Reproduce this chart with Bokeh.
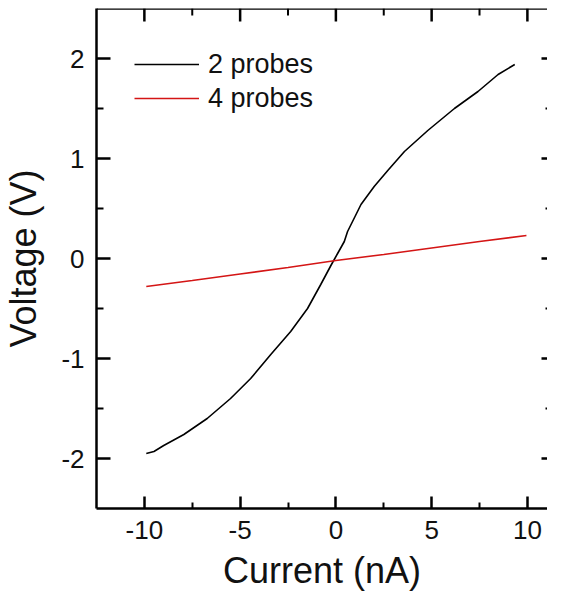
from bokeh.plotting import figure
from bokeh.models import (LinearAxis, FixedTicker, Legend, LegendItem, Range1d,
                          CustomJSTickFormatter, Span)
from bokeh.embed import file_html
from bokeh.resources import INLINE

# ---- data ----
current_2p = [-9.9, -9.5, -8.99, -7.94, -6.72, -5.5, -4.45, -3.4, -2.36, -1.48, -0.79, -0.26,
              0.09, 0.44, 0.61, 1.0, 1.31, 2.0, 2.71, 3.58, 4.8, 6.19, 7.42, 8.47, 9.34]
voltage_2p = [-1.95, -1.93, -1.87, -1.76, -1.6, -1.4, -1.2, -0.96, -0.73, -0.5, -0.26, -0.07,
              0.05, 0.17, 0.27, 0.42, 0.54, 0.72, 0.88, 1.07, 1.28, 1.5, 1.67, 1.84, 1.94]

current_4p = [-9.9, -7.5, -5.0, -2.5, 0.0, 2.5, 5.0, 7.5, 9.95]
voltage_4p = [-0.28, -0.22, -0.155, -0.09, -0.02, 0.04, 0.105, 0.17, 0.23]

x_major = [-10, -5, 0, 5, 10]
x_minor = [-7.5, -2.5, 2.5, 7.5]
x_labels = ["-10", "-5", "0", "5", "10"]
y_major = [-2, -1, 0, 1, 2]
y_minor = [-1.5, -0.5, 0.5, 1.5]
y_labels = ["-2", "-1", "0", "1", "2"]

series_labels = ["2 probes", "4 probes"]
series_colors = ["#000000", "#d41515"]

FONT = "Liberation Sans"
TXT = "#111111"

Y_LO, Y_HI = -2.5, 2.5
p = figure(width=547, height=600, output_backend="svg", toolbar_location=None,
           title_location=None,
           x_range=Range1d(-12.5, 11.05), y_range=Range1d(Y_LO, Y_HI),
           min_border_left=89, min_border_right=0, min_border_top=8,
           min_border_bottom=92, x_axis_label="Current (nA)",
           y_axis_label="Voltage (V)")
p.outline_line_color = None
p.xgrid.visible = False
p.ygrid.visible = False
p.background_fill_color = "white"
p.border_fill_color = "white"

r1 = p.line(current_2p, voltage_2p, line_color=series_colors[0], line_width=1.6)
r2 = p.line(current_4p, voltage_4p, line_color=series_colors[1], line_width=1.6)


def style_axis(ax, major_in, minor_in):
    ax.axis_line_width = 2.5
    ax.axis_line_color = "#000000"
    ax.major_tick_line_width = 2.5
    ax.minor_tick_line_width = 2
    ax.major_tick_in = major_in
    ax.major_tick_out = 0
    ax.minor_tick_in = minor_in
    ax.minor_tick_out = 0
    ax.major_tick_line_color = "#000000"
    ax.minor_tick_line_color = "#000000"


xa = p.xaxis[0]
xa.ticker = FixedTicker(ticks=x_major, minor_ticks=x_minor)
xa.major_label_overrides = dict(zip(x_major, x_labels))
style_axis(xa, 12, 6)
xa.major_label_text_font = FONT
xa.major_label_text_font_size = "26px"
xa.major_label_text_color = TXT
xa.major_label_standoff = 12
xa.axis_label_text_font = FONT
xa.axis_label_text_font_size = "36px"
xa.axis_label_text_font_style = "normal"
xa.axis_label_text_color = TXT
xa.axis_label_standoff = 8

ya = p.yaxis[0]
ya.ticker = FixedTicker(ticks=y_major, minor_ticks=y_minor)
ya.major_label_overrides = dict(zip(y_major, y_labels))
style_axis(ya, 14, 7)
ya.major_label_text_font = FONT
ya.major_label_text_font_size = "26px"
ya.major_label_text_color = TXT
ya.major_label_standoff = 12
ya.axis_label_text_font = FONT
ya.axis_label_text_font_size = "36px"
ya.axis_label_text_font_style = "normal"
ya.axis_label_text_color = TXT
ya.axis_label_standoff = 14

blank = CustomJSTickFormatter(code="return ''")

# top frame edge with inward ticks (frame is 100 px per volt)
p.add_layout(Span(location=Y_HI, dimension="width", line_color="#000000",
                  line_width=2.5))
p.segment(x0=x_major, y0=[Y_HI] * len(x_major), x1=x_major,
          y1=[Y_HI - 0.13] * len(x_major), line_color="#000000", line_width=2.5)
p.segment(x0=x_minor, y0=[Y_HI] * len(x_minor), x1=x_minor,
          y1=[Y_HI - 0.07] * len(x_minor), line_color="#000000", line_width=2)

right = LinearAxis(ticker=FixedTicker(ticks=y_major, minor_ticks=y_minor),
                   formatter=blank)
style_axis(right, 6, 2)
right.axis_line_color = None
right.major_label_text_font_size = "1px"
right.major_label_standoff = 0
p.add_layout(right, "right")

legend = Legend(items=[LegendItem(label=series_labels[0], renderers=[r1]),
                       LegendItem(label=series_labels[1], renderers=[r2])],
                location=(38, 393))
legend.label_text_font = FONT
legend.label_text_font_size = "27px"
legend.label_text_color = TXT
legend.glyph_width = 65
legend.glyph_height = 34
legend.label_height = 34
legend.label_standoff = 9
legend.spacing = 0
legend.padding = 0
legend.margin = 0
legend.border_line_color = None
legend.background_fill_alpha = 0
p.add_layout(legend)

open("out.html", "w").write(file_html(p, INLINE))
